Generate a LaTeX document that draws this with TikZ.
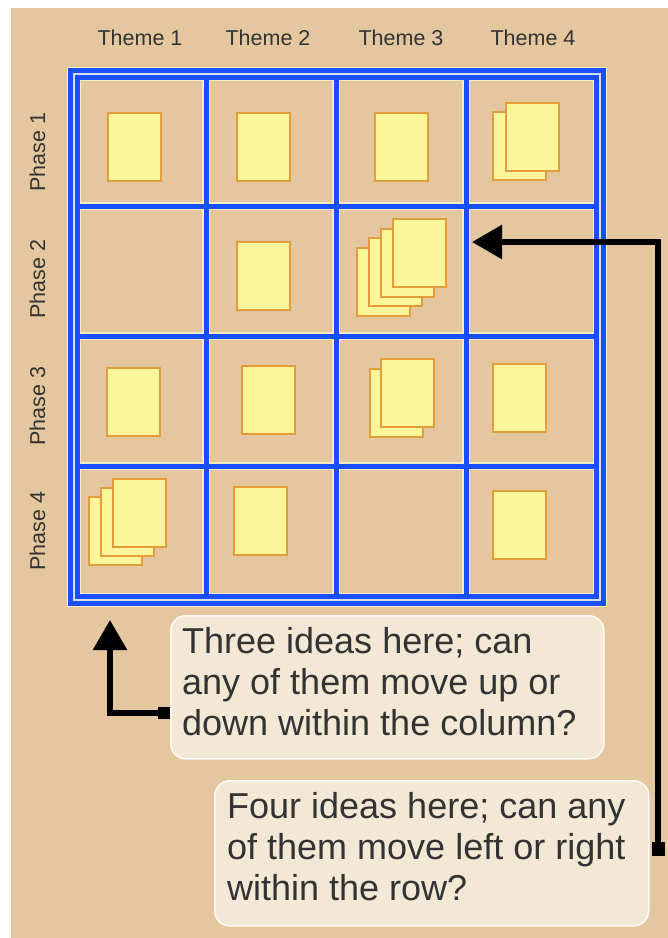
\documentclass[tikz,border=0pt]{standalone}
\usepackage{fontspec}
\setmainfont{Liberation Sans}
\usetikzlibrary{arrows.meta}
\definecolor{parch}{HTML}{E4C79E}
\definecolor{gridblue}{HTML}{1A4FFF}
\definecolor{gridedge}{HTML}{F4ECC4}
\definecolor{cardfill}{HTML}{FFF69C}
\definecolor{carddraw}{HTML}{E39D3A}
\definecolor{boxfill}{HTML}{F3E8D5}
\definecolor{txtcol}{HTML}{333333}
\tikzset{
  hdr/.style={font=\fontsize{21.5}{24}\selectfont, text=txtcol, inner sep=0pt},
  paleline/.style={draw=gridedge, line width=7.5pt},
  blueline/.style={draw=gridblue, line width=5pt},
  ideacard/.style={fill=cardfill, draw=carddraw, line width=2pt},
  tbox/.style={fill=boxfill, draw=white!80!boxfill, line width=1.5pt, rounded corners=15pt, inner sep=0pt, anchor=north west},
  btxt/.style={font=\fontsize{36}{41}\selectfont, text=txtcol, align=left, inner sep=0pt, anchor=north west},
  conn/.style={draw=black, line width=6pt},
}
\newcommand\idcard[2]{\draw[ideacard] (#1,#2) rectangle ++(53,68);}
\begin{document}
\begin{tikzpicture}[x=1pt,y=-1pt]
\useasboundingbox (0,0) rectangle (668,938);
\fill[white] (0,0) rectangle (668,938);
\fill[parch] (11,8) rectangle (668,938);

% headers
\node[hdr] (th1) at (140,38) {Theme 1};
\node[hdr] (th2) at (268,38) {Theme 2};
\node[hdr] (th3) at (401,38) {Theme 3};
\node[hdr] (th4) at (533,38) {Theme 4};
\node[hdr, rotate=90] (ph1) at (37.5,152) {Phase 1};
\node[hdr, rotate=90] (ph2) at (37.5,279) {Phase 2};
\node[hdr, rotate=90] (ph3) at (37.5,406) {Phase 3};
\node[hdr, rotate=90] (ph4) at (37.5,531) {Phase 4};

% grid
\draw[draw=gridedge, line width=14pt] (73.5,73.5) rectangle (599.5,599.5);
\foreach \v in {206,336,466}{
  \draw[paleline] (\v,79.5) -- (\v,593.5);
  \draw[paleline] (79.5,\v) -- (593.5,\v);
}
\foreach \v in {206,336,466}{
  \draw[blueline] (\v,79.5) -- (\v,593.5);
  \draw[blueline] (79.5,\v) -- (593.5,\v);
}
\draw[draw=gridblue, line width=12pt] (73.5,73.5) rectangle (599.5,599.5);
\draw[draw=gridedge!60!gridblue!40!white, line width=2pt] (73.5,73.5) rectangle (599.5,599.5);

% cards row 1
\idcard{108}{113}
\idcard{237}{113}
\idcard{375}{113}
\idcard{493}{112}\idcard{506}{103}
% row 2
\idcard{237}{242}
\idcard{357}{248}\idcard{369}{238}\idcard{381}{229}\idcard{393}{219}
% row 3
\idcard{107}{368}
\idcard{242}{366}
\idcard{370}{369}\idcard{381}{359}
\idcard{493}{364}
% row 4
\idcard{89}{497}\idcard{101}{488}\idcard{113}{479}
\idcard{234}{487}
\idcard{493}{491}

% text boxes
\node[tbox, minimum width=433pt, minimum height=143pt] (b1) at (170,615) {};
\node[btxt] (t1) at (182,627) {Three ideas here; can\\any of them move up or\\down within the column?};
\node[tbox, minimum width=434pt, minimum height=145pt] (b2) at (214,780) {};
\node[btxt] (t2) at (227,792) {Four ideas here; can any\\of them move left or right\\within the row?};

% connectors
\coordinate (a1s) at (b1.west |- 0,713);
\coordinate (a1e) at (110,620);
\draw[conn, {Square[length=12pt,width=12pt]}-{Triangle[length=30pt,width=33pt]}] (a1s) -| (a1e);
\coordinate (a2s) at (658,856);
\coordinate (a2e) at (472,242);
\draw[conn, {Square[length=14pt,width=13pt]}-{Triangle[length=30pt,width=33pt]}] (a2s) |- (a2e);
\end{tikzpicture}
\end{document}
